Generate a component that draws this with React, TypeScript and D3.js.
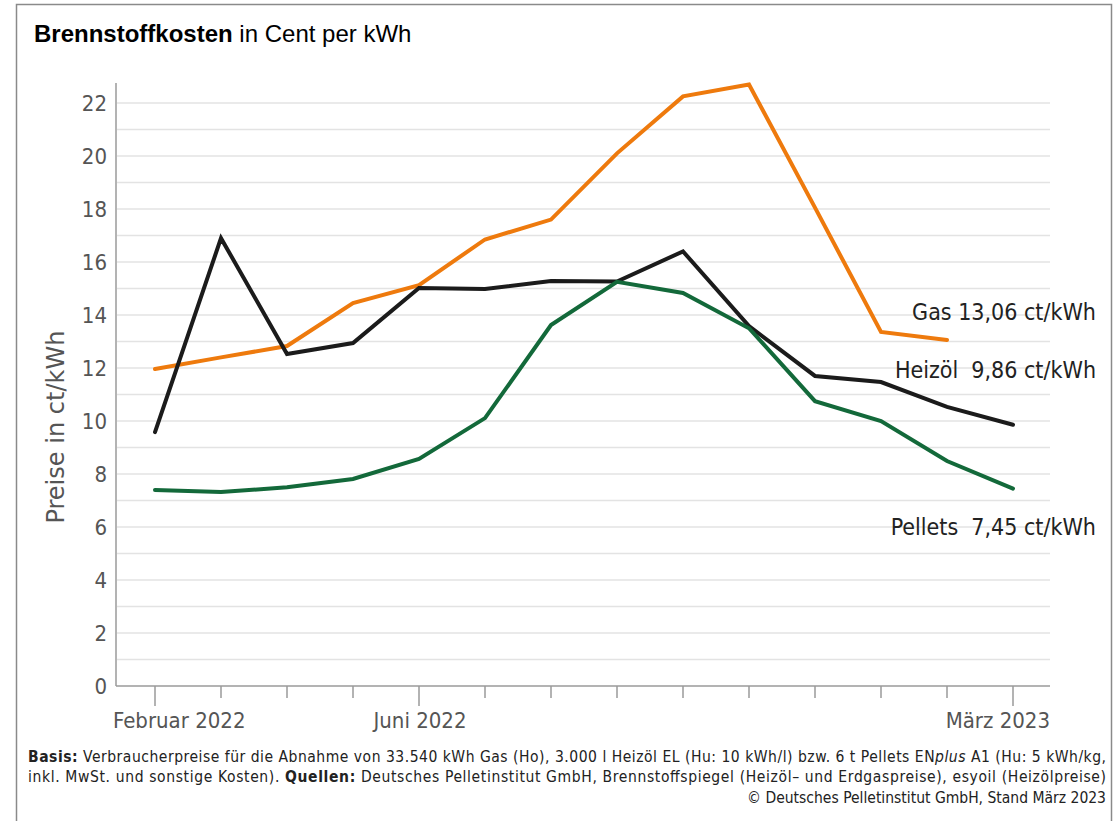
import React from "react";
import * as d3 from "d3";

const months = ["2022-02","2022-03","2022-04","2022-05","2022-06","2022-07","2022-08","2022-09","2022-10","2022-11","2022-12","2023-01","2023-02","2023-03"];
const gas = [11.96, 12.4, 12.83, 14.45, 15.13, 16.85, 17.6, 20.1, 22.25, 22.7, 18.05, 13.36, 13.06];
const heizoel = [9.58, 16.9, 12.53, 12.94, 15.02, 14.98, 15.28, 15.26, 16.4, 13.58, 11.7, 11.47, 10.53, 9.86];
const pellets = [7.4, 7.32, 7.5, 7.81, 8.57, 10.11, 13.62, 15.25, 14.83, 13.5, 10.75, 10.0, 8.49, 7.45];
const yTicks = [0, 2, 4, 6, 8, 10, 12, 14, 16, 18, 20, 22];
const gridValues = d3.range(0, 23, 1);
const xLabels = [
  { i: 0, text: "Februar 2022", anchor: "start", dx: -42 },
  { i: 4, text: "Juni 2022", anchor: "middle", dx: 1 },
  { i: 13, text: "März 2023", anchor: "end", dx: 37 },
];
const majorTicks = [0, 4, 13];
const seriesLabels = [
  { text: "Gas 13,06 ct/kWh", y: 320 },
  { text: "Heizöl  9,86 ct/kWh", y: 378 },
  { text: "Pellets  7,45 ct/kWh", y: 535 },
];

const COND = "'DejaVu Sans Condensed', 'Liberation Sans Narrow', 'Roboto Condensed', 'DejaVu Sans', sans-serif";

export default function App() {
  const x = d3.scaleLinear().domain([0, 13]).range([155, 1013]);
  const y = d3.scaleLinear().domain([0, 22]).range([686, 103]);
  const line = d3.line<number>().x((_, i) => x(i)).y((d) => y(d));

  const series = [
    { data: gas, color: "#ee7a0d" },
    { data: heizoel, color: "#1b1b1b" },
    { data: pellets, color: "#13693a" },
  ];

  return (
    <svg width={1120} height={821} style={{ position: "absolute", left: 0, top: 0, display: "block", background: "#fff" }}>
      <rect x={16.5} y={4.5} width={1095} height={830} fill="none" stroke="#8a8a8a" strokeWidth={1.5} />
      <text x={34} y={42} fontFamily="Arial, 'Liberation Sans', sans-serif" fontSize={24} fill="#000">
        <tspan fontWeight="bold">Brennstoffkosten</tspan>
        <tspan> in Cent per kWh</tspan>
      </text>

      {gridValues.filter((v) => v > 0).map((v) => (
        <line key={v} x1={117} x2={1050} y1={y(v)} y2={y(v)} stroke="#e3e3e3" strokeWidth={1.5} />
      ))}
      <line x1={116} x2={116} y1={83} y2={686} stroke="#9a9a9a" strokeWidth={1.5} />
      <line x1={116} x2={1050} y1={686} y2={686} stroke="#9a9a9a" strokeWidth={1.5} />

      {months.map((m, i) => (
        <line key={m} x1={x(i)} x2={x(i)} y1={686} y2={majorTicks.includes(i) ? 706 : 698} stroke="#9a9a9a" strokeWidth={1.5} />
      ))}

      {yTicks.map((v) => (
        <text key={v} x={107} y={y(v)} dy="0.35em" textAnchor="end" fontFamily={COND} fontSize={22} fill="#555">
          {v}
        </text>
      ))}
      <text transform={`translate(64,427) rotate(-90)`} textAnchor="middle" fontFamily={COND} fontSize={24} fill="#555" textLength={193} lengthAdjust="spacingAndGlyphs">
        Preise in ct/kWh
      </text>

      {xLabels.map((l) => (
        <text key={l.text} x={x(l.i) + l.dx} y={728} textAnchor={l.anchor as any} fontFamily={COND} fontSize={22} fill="#555">
          {l.text}
        </text>
      ))}

      {series.map((s, k) => (
        <path key={k} d={line(s.data) || ""} fill="none" stroke={s.color} strokeWidth={4} strokeLinejoin="miter" strokeLinecap="round" />
      ))}

      {seriesLabels.map((l) => (
        <text key={l.text} x={1096} y={l.y} textAnchor="end" fontFamily={COND} fontSize={23} fill="#222" style={{ whiteSpace: "pre" }}>
          {l.text}
        </text>
      ))}

      <g fontFamily={COND} fontSize={15.5} fill="#222">
        <text x={28} y={762} textLength={1078} lengthAdjust="spacing">
          <tspan fontWeight="bold">Basis:</tspan> Verbraucherpreise für die Abnahme von 33.540 kWh Gas (Ho), 3.000 l Heizöl EL (Hu: 10 kWh/l) bzw. 6 t Pellets EN<tspan fontStyle="italic">plus</tspan> A1 (Hu: 5 kWh/kg,
        </text>
        <text x={28} y={782} textLength={1078} lengthAdjust="spacing">
          inkl. MwSt. und sonstige Kosten). <tspan fontWeight="bold">Quellen:</tspan> Deutsches Pelletinstitut GmbH, Brennstoffspiegel (Heizöl– und Erdgaspreise), esyoil (Heizölpreise)
        </text>
        <text x={1106} y={803} textAnchor="end">
          © Deutsches Pelletinstitut GmbH, Stand März 2023
        </text>
      </g>
    </svg>
  );
}
